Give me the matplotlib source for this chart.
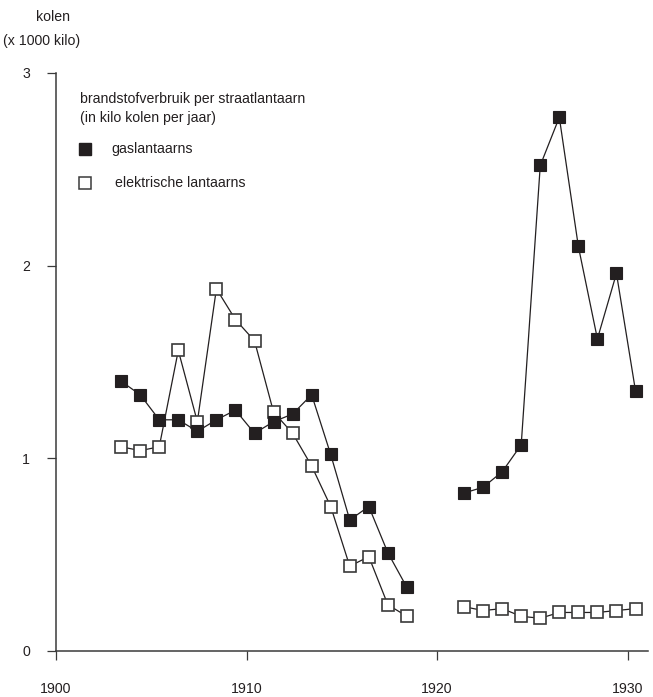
import numpy as np
import matplotlib
matplotlib.use("Agg")
import matplotlib.pyplot as plt

plt.rcParams['font.family'] = ['Liberation Sans', 'DejaVu Sans']

# Fuel use per street lamp, in 1000 kg of coal per year
years = np.arange(1903, 1931)
gas = [1.40, 1.33, 1.20, 1.20, 1.14, 1.20, 1.25, 1.13, 1.19, 1.23, 1.33,
       1.02, 0.68, 0.75, 0.51, 0.33, np.nan, np.nan,
       0.82, 0.85, 0.93, 1.07, 2.52, 2.77, 2.10, 1.62, 1.96, 1.35]
electric = [1.06, 1.04, 1.06, 1.56, 1.19, 1.88, 1.72, 1.61, 1.24, 1.13, 0.96,
            0.75, 0.44, 0.49, 0.24, 0.18, np.nan, np.nan,
            0.23, 0.21, 0.22, 0.18, 0.17, 0.20, 0.20, 0.20, 0.21, 0.22]
x_ticks = [1900, 1910, 1920, 1930]
y_ticks = [0, 1, 2, 3]

INK = '#231f20'
FS = 10.2
# each yearly value sits part-way into its calendar year
year_pos = 0.42

fig = plt.figure(figsize=(6.53, 6.97), dpi=100)
ax = fig.add_axes([56 / 653, (697 - 651) / 697, (647.7 - 56) / 653, (651 - 73) / 697])

ax.plot(years + year_pos, electric, color=INK, lw=0.9, marker='s', ms=8.6,
        mfc='white', mec='#3a3a3a', mew=1.2, zorder=3)
ax.plot(years + year_pos, gas, color=INK, lw=0.9, marker='s', ms=8.6,
        mfc=INK, mec=INK, mew=0.8, zorder=4)

ax.set_xlim(1900, 1931.06)
ax.set_ylim(0, 3)
ax.set_xticks(x_ticks)
ax.set_yticks(y_ticks)
for s in ('top', 'right'):
    ax.spines[s].set_visible(False)
for s in ('left', 'bottom'):
    ax.spines[s].set_color('#3a3a3a')
    ax.spines[s].set_linewidth(1.1)
ax.tick_params(axis='both', direction='out', length=6.5, width=0.9,
               color='#3a3a3a', labelsize=FS, labelcolor=INK)
ax.tick_params(axis='x', pad=16)
ax.tick_params(axis='y', pad=12)

fig.text(53 / 653, 1 - 17 / 697, 'kolen', ha='center', va='center',
         fontsize=FS, color=INK)
fig.text(3 / 653, 1 - 41 / 697, '(x 1000 kilo)', ha='left', va='center',
         fontsize=FS, color=INK)

# legend block
fig.text(80 / 653, 1 - 99 / 697, 'brandstofverbruik per straatlantaarn',
         ha='left', va='center', fontsize=FS, color=INK)
fig.text(80 / 653, 1 - 118 / 697, '(in kilo kolen per jaar)',
         ha='left', va='center', fontsize=FS, color=INK)
fig.lines.append(plt.Line2D([85.5 / 653], [1 - 149 / 697], marker='s', ms=8.6,
                            mfc=INK, mec=INK, ls='none',
                            transform=fig.transFigure))
fig.text(111 / 653, 1 - 149 / 697, 'gaslantaarns', ha='left', va='center',
         fontsize=FS, color=INK)
fig.lines.append(plt.Line2D([85 / 653], [1 - 183 / 697], marker='s', ms=8.0,
                            mfc='white', mec='#3a3a3a', mew=1.1, ls='none',
                            transform=fig.transFigure))
fig.text(115 / 653, 1 - 183 / 697, 'elektrische lantaarns', ha='left',
         va='center', fontsize=FS, color=INK)

fig.savefig('out.png', dpi=100)
